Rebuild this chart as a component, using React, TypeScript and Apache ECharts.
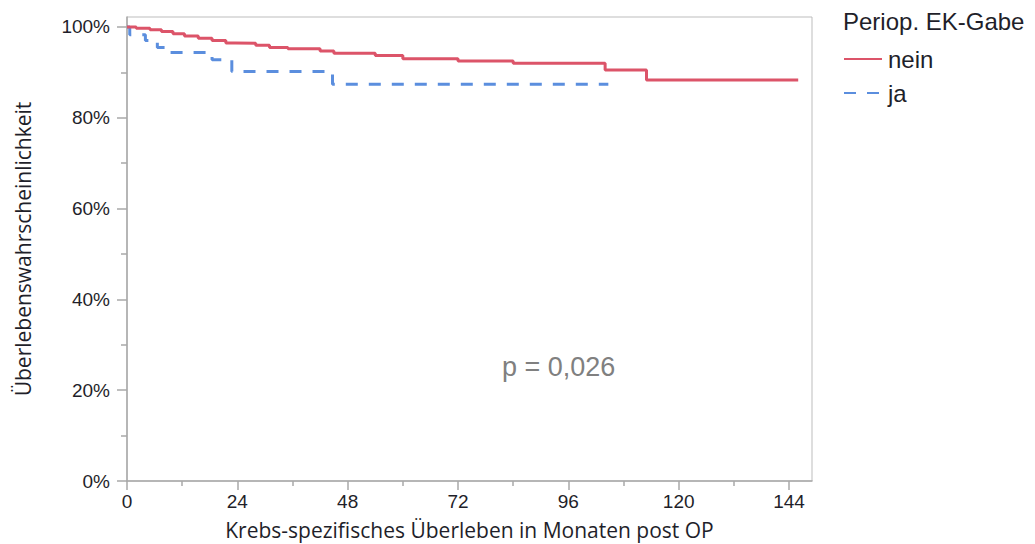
import React, { useEffect, useRef } from "react";
import * as echarts from "echarts";

// Kaplan–Meier steps: [month, survival %]
const neinSteps: [number, number][] = [
  [0, 100], [2, 99.7], [5, 99.4], [7.5, 99.0], [10, 98.5], [12.5, 98.0],
  [15.5, 97.5], [18.5, 97.0], [21.5, 96.5], [23.5, 96.4], [28, 96.0],
  [31, 95.5], [35, 95.2], [42, 94.7], [45, 94.2], [54, 93.7], [60, 93.0],
  [72, 92.5], [84, 92.0], [104, 90.5], [113, 88.3], [146, 88.3],
];
const jaSteps: [number, number][] = [
  [0, 100], [0.6, 98.3], [4, 97.0], [6.6, 95.5], [8.5, 94.4], [18.5, 92.8],
  [22.8, 90.2], [44.7, 87.4], [104.7, 87.4],
];

const seriesNames = ["nein", "ja"];
const legendTitle = "Periop. EK-Gabe";
const pValueText = "p = 0,026";

const xMajorTicks = [0, 24, 48, 72, 96, 120, 144];
const xMinorTicks = [12, 36, 60, 84, 108, 132];
const yMajorTicks = [0, 20, 40, 60, 80, 100];
const yMinorTicks = [10, 30, 50, 70, 90];

const X_MAX = 149;
const Y_MAX = 102.2;

const AXIS_GREY = "#a9a9a9";
const TEXT_DARK = "#1f1f2a";
const RED = "#dc5469";
const BLUE = "#5b8ede";

export default function App() {
  const ref = useRef<HTMLDivElement>(null);

  useEffect(() => {
    if (!ref.current) return;
    const chart = echarts.init(ref.current, null, { renderer: "svg" });

    const tickLabelStyle = {
      color: TEXT_DARK,
      fontFamily: "Liberation Sans, Arial, sans-serif",
      fontSize: 19,
    };
    const nameStyle = {
      color: TEXT_DARK,
      fontFamily: "Open Sans, sans-serif",
      fontSize: 21,
    };

    chart.setOption({
      animation: false,
      backgroundColor: "#ffffff",
      title: {
        text: legendTitle,
        left: 843,
        top: 9,
        textStyle: {
          color: TEXT_DARK,
          fontFamily: "Liberation Sans, Arial, sans-serif",
          fontSize: 24,
          fontWeight: "normal",
        },
        padding: 0,
      },
      legend: {
        orient: "vertical",
        left: 843,
        top: 47,
        padding: 0,
        itemWidth: 38,
        itemHeight: 14,
        itemGap: 10,
        data: seriesNames,
        itemStyle: { opacity: 0 },
        textStyle: {
          color: TEXT_DARK,
          fontFamily: "Liberation Sans, Arial, sans-serif",
          fontSize: 24,
          padding: [0, 0, 0, 1],
        },
      },
      grid: {
        left: 127,
        right: 223,
        top: 17,
        bottom: 63,
        containLabel: false,
        outerBoundsMode: "none",
        show: true,
        borderColor: "#bdbdbd",
        borderWidth: 1,
        backgroundColor: "transparent",
      },
      xAxis: [
        {
          type: "value",
          min: 0,
          max: X_MAX,
          name: "Krebs-spezifisches Überleben in Monaten post OP",
          nameLocation: "middle",
          nameGap: 38,
          nameTextStyle: nameStyle,
          axisLine: { show: true, lineStyle: { color: AXIS_GREY, width: 1.5 } },
          axisTick: {
            show: true,
            length: 9,
            customValues: xMajorTicks,
            lineStyle: { color: AXIS_GREY, width: 1.5 },
          },
          axisLabel: {
            customValues: xMajorTicks,
            margin: 11,
            ...tickLabelStyle,
          },
          splitLine: { show: false },
        },
        {
          type: "value",
          min: 0,
          max: X_MAX,
          position: "bottom",
          axisLine: { show: false },
          axisTick: {
            show: true,
            length: 5,
            customValues: xMinorTicks,
            lineStyle: { color: AXIS_GREY, width: 1.5 },
          },
          axisLabel: { show: false },
          splitLine: { show: false },
        },
      ],
      yAxis: [
        {
          type: "value",
          min: 0,
          max: Y_MAX,
          name: "Überlebenswahrscheinlichkeit",
          nameLocation: "middle",
          nameGap: 94,
          nameRotate: 90,
          nameTextStyle: nameStyle,
          axisLine: { show: true, lineStyle: { color: AXIS_GREY, width: 1.5 } },
          axisTick: {
            show: true,
            length: 10,
            customValues: yMajorTicks,
            lineStyle: { color: AXIS_GREY, width: 1.5 },
          },
          axisLabel: {
            customValues: yMajorTicks,
            margin: 17,
            formatter: (v: number) => `${v}%`,
            ...tickLabelStyle,
          },
          splitLine: { show: false },
        },
        {
          type: "value",
          min: 0,
          max: Y_MAX,
          position: "left",
          axisLine: { show: false },
          axisTick: {
            show: true,
            length: 6,
            customValues: yMinorTicks,
            lineStyle: { color: AXIS_GREY, width: 1.5 },
          },
          axisLabel: { show: false },
          splitLine: { show: false },
        },
      ],
      graphic: [
        {
          type: "text",
          left: 502,
          top: 353,
          style: {
            text: pValueText,
            fill: "#808080",
            font: "27px 'Liberation Sans', Arial, sans-serif",
          },
        },
      ],
      series: [
        {
          name: seriesNames[0],
          type: "line",
          step: "end",
          data: neinSteps,
          showSymbol: false,
          symbol: "none",
          lineStyle: { color: RED, width: 3 },
          itemStyle: { color: RED },
          z: 3,
        },
        {
          name: seriesNames[1],
          type: "line",
          step: "end",
          data: jaSteps,
          showSymbol: false,
          symbol: "none",
          lineStyle: { color: BLUE, width: 3, type: [12, 11] },
          itemStyle: { color: BLUE },
          z: 2,
        },
      ],
    });

    return () => chart.dispose();
  }, []);

  return (
    <div
      ref={ref}
      style={{ position: "fixed", left: 0, top: 0, width: 1035, height: 544 }}
    />
  );
}
